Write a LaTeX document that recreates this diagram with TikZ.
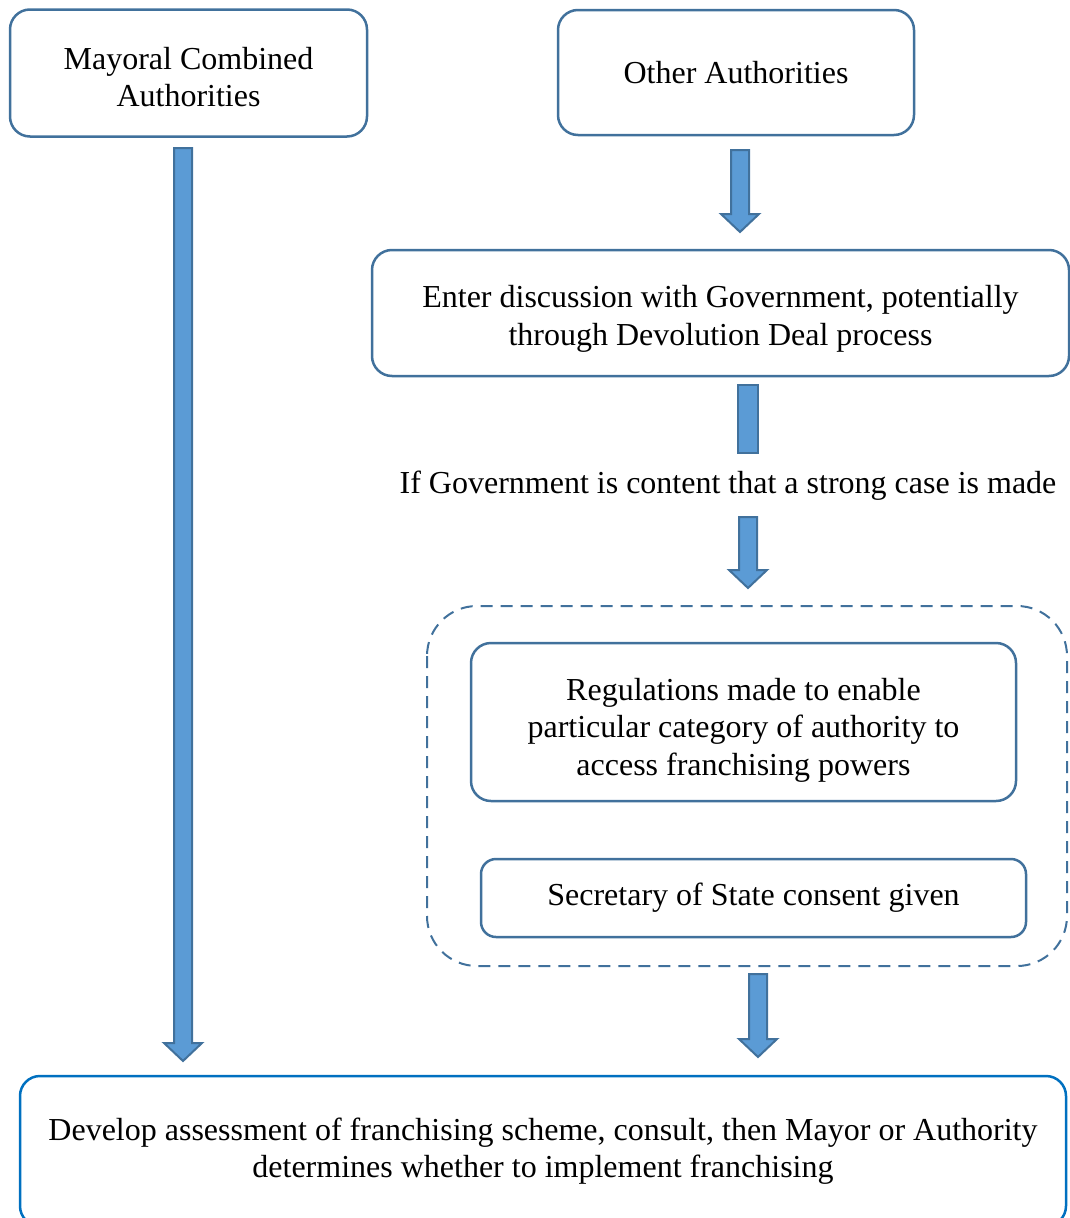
\documentclass[tikz,border=0pt]{standalone}
\usepackage{fontspec}
\setmainfont{Liberation Serif}
\usepackage{tikz}
\usetikzlibrary{calc}
\usetikzlibrary{positioning}

\definecolor{boxline}{HTML}{41719C}
\definecolor{arrowfill}{HTML}{5B9BD5}
\definecolor{lastline}{HTML}{0070C0}

\tikzset{
  boxtext/.style={align=center, font=\fontsize{32}{37.5}\selectfont, inner sep=0pt},
  stagebox/.style={boxtext, draw=boxline, line width=2.5pt, rounded corners=20pt},
  arrowbody/.style={fill=arrowfill, draw=boxline, line width=2pt, line join=miter},
}

% block arrow from top coordinate #1 down to tip coordinate #2
\newcommand{\blockarrow}[2]{%
  \filldraw[arrowbody] let \p1=(#1), \p2=(#2) in
    (\x1-9pt,\y1) -- (\x1+9pt,\y1) -- (\x2+9pt,\y2+18pt) -- (\x2+19pt,\y2+18pt)
    -- (\x2,\y2) -- (\x2-19pt,\y2+18pt) -- (\x2-9pt,\y2+18pt) -- cycle;}

\begin{document}
\begin{tikzpicture}[x=1pt, y=-1pt]
\useasboundingbox (0, 0) rectangle (1070, 1218);

\node[stagebox, minimum width=357pt, minimum height=127pt] (mayoral) at (188.5, 73) {};
\node[boxtext] (mayoral_text) at ([yshift=-4pt]mayoral.center) {Mayoral Combined\\Authorities};
\node[stagebox, minimum width=356pt, minimum height=125pt] (other) at (736, 72.5) {Other Authorities};
\node[stagebox, minimum width=697pt, minimum height=126pt] (discussion) at (720.5, 313) {};
\node[boxtext] (discussion_text) at ([yshift=-6pt]discussion.center) {Enter discussion with Government, potentially\\through Devolution Deal process};
\node[boxtext] (condition) at (728, 486) {If Government is content that a strong case is made};

\draw[draw=boxline, line width=2pt, dash pattern=on 12pt off 8pt, rounded corners=50pt] (427, 606) rectangle (1067, 966);
\node[stagebox, minimum width=545pt, minimum height=158pt] (regulations) at (743.5, 722) {};
\node[boxtext] (regulations_text) at ([yshift=-8pt]regulations.center) {Regulations made to enable\\particular category of authority to\\access franchising powers};
\node[stagebox, rounded corners=15pt, minimum width=545pt, minimum height=78pt] (consent) at (753.5, 898) {Secretary of State consent given};

\node[stagebox, draw=lastline, minimum width=1046pt, minimum height=150pt] (assessment) at (543, 1151) {Develop assessment of franchising scheme, consult, then Mayor or Authority\\determines whether to implement franchising};

% arrows
\coordinate (a1top) at (740, 150);
\coordinate (a1tip) at (740, 232);
\coordinate (a3top) at (748, 517);
\coordinate (a3tip) at (748, 588);
\coordinate (a4top) at (758, 974);
\coordinate (a4tip) at (758, 1057);
\coordinate (longtop) at (183, 148);
\coordinate (longtip) at (183, 1061);

\blockarrow{a1top}{a1tip}
\filldraw[arrowbody] (738, 385) rectangle (758, 453);
\blockarrow{a3top}{a3tip}
\blockarrow{a4top}{a4tip}
\blockarrow{longtop}{longtip}
\end{tikzpicture}
\end{document}
